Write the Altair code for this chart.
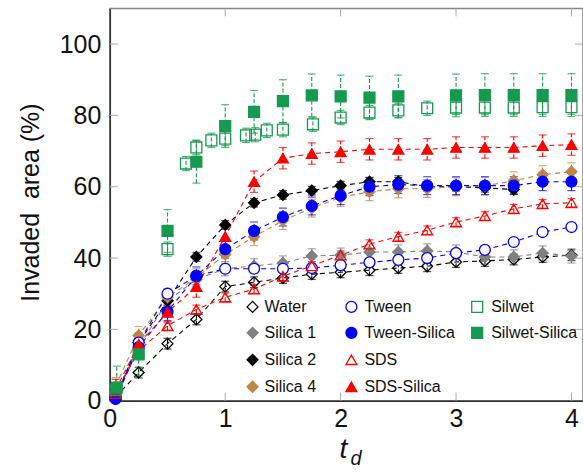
import altair as alt
import pandas as pd

# ---------------- data ----------------
T = [0.05, 0.25, 0.5, 0.75, 1.0, 1.25, 1.5, 1.75, 2.0, 2.25, 2.5, 2.75, 3.0, 3.25, 3.5, 3.75, 4.0]
T_SILICA2 = [0.05, 0.25, 0.5, 0.75, 1.0, 1.25, 1.5, 1.75, 2.0, 2.25, 2.5, 2.75, 3.0, 3.25, 3.5]
T_SILWET = [0.05, 0.5, 0.66, 0.75, 0.88, 1.0, 1.18, 1.26, 1.36, 1.5, 1.76, 2.0, 2.25, 2.5, 2.75,
            3.0, 3.25, 3.5, 3.75, 4.0]
T_SILWET_SILICA = [0.06, 0.25, 0.5, 0.75, 1.0, 1.25, 1.5, 1.75, 2.0, 2.25, 2.5, 3.0, 3.25, 3.5, 3.75, 4.0]

water = [1, 7.9, 16, 22.8, 32, 33.2, 34.4, 35.5, 36, 36.6, 37.2, 37.7, 38.9, 39.2, 39.6, 40.3, 40.8]
silica1 = [2, 15, 28, 34, 37, 37.8, 38.6, 40.6, 40.8, 41.7, 41.7, 42, 41.7, 40.3, 40.3, 41.4, 40.6]
silica2 = [0.5, 16.3, 28, 40.3, 49.3, 55.5, 57.7, 58.9, 60.3, 61.4, 61.4, 60, 60, 59.7, 59.2]
silica4 = [4, 18.3, 29, 34.5, 41, 46, 50.5, 54, 57, 58.6, 59.4, 59.5, 60, 60.2, 61.7, 63.4, 64.2]
tween = [1, 16.3, 30, 35, 37, 37, 37, 37.2, 38, 38.8, 39.5, 40, 41.4, 42.3, 44.5, 47.3, 48.7]
tween_silica = [0.5, 15, 25, 35, 42.5, 47.6, 51.5, 54.6, 57.5, 60, 60.6, 60.3, 60.3, 60.3, 60.3, 61.4, 61.4]
sds = [2, 14, 21, 25.6, 29, 31.3, 34.9, 37.8, 40.8, 43.9, 46, 47.8, 50.1, 51.8, 53.8, 55.2, 55.5]
sds_silica = [3, 15.8, 24.8, 32, 46, 61.4, 68, 69.3, 69.8, 70.5, 70.5, 70.5, 71, 71, 71, 71.5, 71.8]
silwet = [3, 42.5, 66.5, 71, 73, 73.5, 74.4, 74.6, 75.8, 76, 77.5, 79.4, 80.8, 81.4, 82, 82.2, 82.2,
          82.2, 82.3, 82.3]
silwet_silica = [3.7, 13, 47.6, 67, 77, 81, 84, 85.6, 85.3, 85, 85.3, 85.6, 85.7, 85.7, 85.7, 85.7]

SERIES = ["Water", "Silica 1", "Silica 2", "Silica 4",
          "Tween", "Tween-Silica", "SDS", "SDS-Silica",
          "Silwet", "Silwet-Silica"]
TIMES = [T, T, T_SILICA2, T, T, T, T, T, T_SILWET, T_SILWET_SILICA]
VALUES = [water, silica1, silica2, silica4, tween, tween_silica, sds, sds_silica, silwet, silwet_silica]
ERRORS = [1.5, 2.0, 1.2, 2.5, 1.0, 2.5, 1.2, 3.0, 2.0, 6.0]
COLORS = ["#000000", "#808080", "#000000", "#bf8446",
          "#0000ff", "#0000ff", "#ff0000", "#ff0000",
          "#159a4f", "#159a4f"]
SHAPES = ["diamond", "diamond", "diamond", "diamond",
          "circle", "circle", "triangle-up", "triangle-up",
          "square", "square"]
FILLS = ["transparent", "#808080", "#000000", "#bf8446",
         "white", "#0000ff", "transparent", "#ff0000",
         "transparent", "#159a4f"]
HAS_LINE = [True, True, True, True, True, True, True, True, False, False]
GROUPS = [SERIES[0:4], SERIES[4:8], SERIES[8:10]]

Y_TICKS = [0, 20, 40, 60, 80, 100]
X_TICKS = [0, 1, 2, 3, 4]

# ---------------- build table ----------------
rows = []
for name, ts, vs, e, hl in zip(SERIES, TIMES, VALUES, ERRORS, HAS_LINE):
    for t, v in zip(ts, vs):
        rows.append({"series": name, "t": t, "v": v, "lo": max(v - e, 0), "hi": v + e, "line": hl})
df = pd.DataFrame(rows)

W, H = 474, 393
FONT = "Liberation Sans"

xenc = alt.X("t:Q", scale=alt.Scale(domain=[0, 4.1], nice=False, zero=False),
             axis=alt.Axis(values=X_TICKS, title=None, ticks=False, grid=False, labelFontSize=25,
                           labelFont=FONT, labelColor="#111", labelPadding=6, labelFlush=False,
                           labelOverlap=False, domainColor="#333", domainWidth=1.5, format="d"))
yenc = alt.Y("v:Q", scale=alt.Scale(domain=[0, 110], nice=False),
             axis=alt.Axis(values=Y_TICKS, title="Invaded\u00a0 area (%)", ticks=False, grid=False,
                           labelFontSize=25, labelFont=FONT, labelColor="#111", labelPadding=9,
                           labelOverlap=False, domainColor="#333", domainWidth=1.5,
                           titleFontSize=25, titleFont=FONT, titleFontWeight="normal",
                           titleColor="#111", titleX=-79, titleY=194, titleAngle=-90,
                           titleAlign="center", titleBaseline="middle"))

series_scale_color = alt.Scale(domain=SERIES, range=COLORS)
series_scale_fill = alt.Scale(domain=SERIES, range=FILLS)
series_scale_shape = alt.Scale(domain=SERIES, range=SHAPES)
color = alt.Color("series:N", scale=series_scale_color, legend=None)

base = alt.Chart(df)
lines = base.transform_filter(alt.datum.line).mark_line(
    strokeDash=[5, 4], strokeWidth=1.1).encode(x=xenc, y=yenc, color=color, order="t:Q")
err_rules = base.mark_rule(strokeWidth=1.1, strokeDash=[4, 2]).encode(
    x=xenc, y=alt.Y("lo:Q"), y2="hi:Q", color=color)
err_caps = base.transform_fold(["lo", "hi"], as_=["k", "cap"]).mark_tick(
    orient="horizontal", size=8, thickness=1.2).encode(x=xenc, y=alt.Y("cap:Q"), color=color)
points = base.mark_point(opacity=1, strokeWidth=1.3, size=120).encode(
    x=xenc, y=yenc,
    shape=alt.Shape("series:N", scale=series_scale_shape, legend=None),
    fill=alt.Fill("series:N", scale=series_scale_fill, legend=None),
    stroke=alt.Stroke("series:N", scale=series_scale_color, legend=None))

# inward tick marks on the frame
inner = [v for v in Y_TICKS if v > 0]
xin = [v for v in X_TICKS if v > 0]
tick_col = "#aaaaaa"
yt_left = alt.Chart(pd.DataFrame({"v": inner})).mark_rule(color=tick_col, strokeWidth=1).encode(
    y="v:Q", x=alt.value(0), x2=alt.value(8))
yt_right = alt.Chart(pd.DataFrame({"v": inner})).mark_rule(color=tick_col, strokeWidth=1).encode(
    y="v:Q", x=alt.value(W - 8), x2=alt.value(W))
xt_bot = alt.Chart(pd.DataFrame({"t": xin})).mark_rule(color=tick_col, strokeWidth=1).encode(
    x="t:Q", y=alt.value(H - 8), y2=alt.value(H))
xt_top = alt.Chart(pd.DataFrame({"t": xin})).mark_rule(color=tick_col, strokeWidth=1).encode(
    x="t:Q", y=alt.value(0), y2=alt.value(8))

# legend built from the series lists, three columns
LEG_SYM_X = [143, 242, 368]
LEG_TXT_X = [155, 255, 382]
LEG_ROW_Y = [299, 325, 352, 379]
legend_layers = []
for gi, names in enumerate(GROUPS):
    for ri, name in enumerate(names):
        i = SERIES.index(name)
        one = alt.Chart(pd.DataFrame({"series": [name]}))
        legend_layers.append(one.mark_point(opacity=1, strokeWidth=1.3, size=120).encode(
            x=alt.value(LEG_SYM_X[gi]), y=alt.value(LEG_ROW_Y[ri]),
            shape=alt.value(SHAPES[i]), fill=alt.value(FILLS[i]), stroke=alt.value(COLORS[i])))
        legend_layers.append(one.mark_text(
            font=FONT, fontSize=16, color="#111", align="left", baseline="middle").encode(
            text="series:N", x=alt.value(LEG_TXT_X[gi]), y=alt.value(LEG_ROW_Y[ri])))

title_t = alt.Chart(pd.DataFrame({"s": ["t"]})).mark_text(
    font=FONT, fontSize=28, fontStyle="italic", color="#111", align="center", baseline="alphabetic"
).encode(text="s:N", x=alt.value(234), y=alt.value(450))
title_d = alt.Chart(pd.DataFrame({"s": ["d"]})).mark_text(
    font=FONT, fontSize=20, fontStyle="italic", color="#111", align="left", baseline="alphabetic"
).encode(text="s:N", x=alt.value(241), y=alt.value(457))

chart = alt.layer(
    yt_left, yt_right, xt_bot, xt_top,
    lines, err_rules, err_caps, points,
    *legend_layers,
    title_t, title_d,
).properties(
    width=W, height=H,
    padding={"left": 110, "top": 8, "right": 0, "bottom": 71},
    autosize=alt.AutoSizeParams(type="none"),
).configure_view(
    stroke="#888888", strokeWidth=1.5
)

chart.save("out.html", embed_options={"renderer": "svg", "actions": False})
